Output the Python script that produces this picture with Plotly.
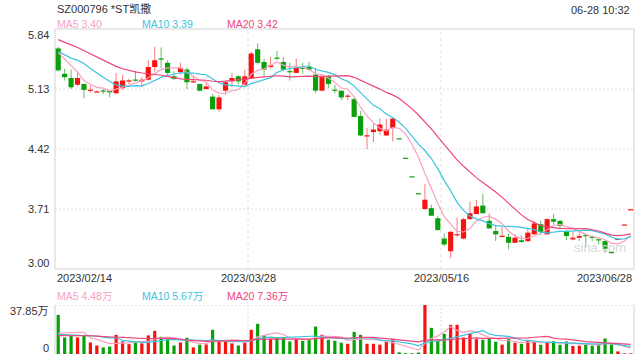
import numpy as np
import plotly.graph_objects as go

title = "SZ000796 *ST凯撒"
timestamp = "06-28 10:32"

opens = [5.61, 5.31, 5.26, 5.18, 5.19, 5.11, 5.09, 5.11, 5.11, 5.08,
         5.14, 5.22, 5.24, 5.22, 5.24, 5.39, 5.49, 5.44, 5.28, 5.33,
         5.36, 5.21, 5.19, 5.13, 5.04, 4.89, 5.11, 5.22, 5.28, 5.18,
         5.26, 5.60, 5.45, 5.39, 5.50, 5.45, 5.34, 5.32, 5.38, 5.39,
         5.30, 5.11, 5.28, 5.12, 5.11, 5.04, 5.01, 4.81, 4.57, 4.62,
         4.63, 4.58, 4.67, 4.54, 4.31, 4.09, 3.89, 3.71, 3.72, 3.60,
         3.36, 3.21, 3.40, 3.36, 3.59, 3.65, 3.75, 3.57, 3.45, 3.38,
         3.38, 3.31, 3.34, 3.33, 3.41, 3.53, 3.41, 3.59, 3.57, 3.45,
         3.35, 3.37, 3.40, 3.38, 3.35, 3.33, 3.20, 3.35, 3.52, 3.70]
highs = [5.63, 5.37, 5.36, 5.34, 5.19, 5.17, 5.11, 5.13, 5.11, 5.32,
         5.30, 5.25, 5.34, 5.27, 5.47, 5.63, 5.62, 5.47, 5.34, 5.44,
         5.38, 5.29, 5.19, 5.21, 5.07, 5.06, 5.22, 5.32, 5.29, 5.36,
         5.57, 5.67, 5.49, 5.51, 5.58, 5.51, 5.44, 5.49, 5.44, 5.45,
         5.38, 5.27, 5.30, 5.18, 5.11, 5.07, 5.03, 4.87, 4.67, 4.72,
         4.78, 4.78, 4.79, 4.54, 4.31, 4.09, 3.89, 4.01, 3.76, 3.63,
         3.42, 3.45, 3.61, 3.61, 3.80, 3.82, 3.89, 3.66, 3.52, 3.50,
         3.42, 3.41, 3.40, 3.48, 3.57, 3.57, 3.60, 3.65, 3.58, 3.46,
         3.44, 3.44, 3.41, 3.40, 3.36, 3.34, 3.21, 3.35, 3.52, 3.70]
lows = [5.34, 5.23, 5.13, 5.16, 5.02, 5.09, 5.09, 5.07, 5.03, 5.07,
        5.12, 5.19, 5.22, 5.15, 5.23, 5.34, 5.38, 5.28, 5.24, 5.30,
        5.13, 5.20, 5.10, 5.12, 4.89, 4.86, 5.06, 5.15, 5.18, 5.17,
        5.25, 5.42, 5.27, 5.37, 5.47, 5.34, 5.23, 5.32, 5.31, 5.34,
        5.08, 5.10, 5.14, 5.08, 5.00, 5.00, 4.80, 4.57, 4.42, 4.50,
        4.59, 4.57, 4.51, 4.54, 4.31, 4.09, 3.89, 3.70, 3.63, 3.46,
        3.27, 3.13, 3.38, 3.35, 3.58, 3.65, 3.66, 3.48, 3.33, 3.38,
        3.23, 3.31, 3.31, 3.32, 3.41, 3.40, 3.41, 3.52, 3.48, 3.34,
        3.34, 3.33, 3.25, 3.33, 3.29, 3.19, 3.18, 3.35, 3.52, 3.70]
closes = [5.35, 5.27, 5.15, 5.26, 5.12, 5.12, 5.10, 5.10, 5.09, 5.22,
          5.23, 5.23, 5.23, 5.24, 5.39, 5.47, 5.48, 5.32, 5.25, 5.38,
          5.21, 5.22, 5.11, 5.16, 4.89, 5.03, 5.21, 5.26, 5.22, 5.28,
          5.55, 5.44, 5.36, 5.41, 5.49, 5.36, 5.33, 5.38, 5.37, 5.36,
          5.11, 5.27, 5.19, 5.11, 5.03, 5.05, 4.80, 4.58, 4.58, 4.65,
          4.71, 4.65, 4.78, 4.54, 4.31, 4.09, 3.89, 3.82, 3.63, 3.46,
          3.29, 3.44, 3.41, 3.59, 3.66, 3.74, 3.66, 3.48, 3.41, 3.39,
          3.31, 3.37, 3.32, 3.43, 3.54, 3.44, 3.59, 3.56, 3.51, 3.39,
          3.37, 3.39, 3.39, 3.37, 3.34, 3.24, 3.19, 3.35, 3.52, 3.70]
# volume, in 万 (10k) shares
volumes = [30.2, 12.8, 14.0, 12.8, 14.0, 8.9, 6.6, 5.1, 5.8, 14.8,
           9.7, 7.6, 8.9, 8.2, 14.4, 17.9, 13.3, 11.0, 6.6, 8.9,
           12.5, 5.1, 7.2, 7.4, 18.7, 10.2, 9.7, 8.2, 6.6, 9.2,
           18.7, 23.3, 14.6, 11.8, 12.8, 12.8, 9.7, 11.5, 10.2, 11.0,
           21.2, 14.8, 11.0, 10.2, 8.7, 7.9, 17.1, 14.8, 7.9, 7.9,
           7.2, 9.7, 11.5, 1.3, 0.6, 0.6, 1.1, 37.85, 20.2, 10.2,
           15.6, 22.5, 22.5, 12.8, 16.1, 11.5, 11.0, 12.0, 9.5, 7.2,
           11.5, 8.7, 7.9, 10.4, 9.4, 7.1, 8.7, 10.0, 7.1, 9.7,
           6.2, 6.4, 7.4, 6.4, 7.9, 12.0, 7.4, 2.0, 0.5, 0.5]
# sessions before the visible window (estimated from where the MA lines start)
prior_closes = [5.80, 5.85, 5.90, 5.88, 5.92, 5.86, 5.84, 5.87, 5.83, 5.80,
                5.65, 5.55, 5.50, 5.52, 5.70, 5.66, 5.58, 5.60, 5.62]
prior_volumes = [12, 14, 11, 13, 15, 12, 13, 16, 14, 12,
                 15, 13, 18, 14, 12, 11, 13, 12, 14]

x_labels = ["2023/02/14", "2023/03/28", "2023/05/16", "2023/06/28"]
price_ticks = [5.84, 5.13, 4.42, 3.71, 3.00]
ma_periods = [5, 10, 20]
ma_colors = ["#f7a1bf", "#3cc3df", "#ee4679"]

RED, GREEN = "#f5120f", "#0aa00a"
RED_W, GREEN_W = "#f78585", "#6cc66c"
GRID, BORDER, TXT = "#dedede", "#d2d2d2", "#333333"
FONT = "Liberation Sans, Arial, Noto Sans CJK SC, sans-serif"

o, h, l, c = (np.array(a, dtype=float) for a in (opens, highs, lows, closes))
vol = np.array(volumes, dtype=float)
n = len(c)
idx = np.arange(n)

prev_c = np.concatenate([[prior_closes[-1]], c[:-1]])
up = np.where(c > o, True, np.where(c < o, False, c >= prev_c))
body_col = [RED if u else GREEN for u in up]
wick_col = [RED_W if u else GREEN_W for u in up]


def moving_average(prior, values, k):
    full = np.array(list(prior) + list(values), dtype=float)
    return np.convolve(full, np.ones(k) / k, mode="valid")[-len(values):]


W, H = 640, 360
L_PX, R_PX = 55, 634
MAIN_T, MAIN_B = 29, 269
VOL_T, VOL_B = 305, 354
px = lambda v: v / W
py = lambda v: 1 - v / H

fig = go.Figure()

# wicks
fig.add_trace(go.Bar(x=idx, base=l, y=h - l, width=0.17, marker=dict(color=wick_col, line_width=0),
                     xaxis="x", yaxis="y", hoverinfo="skip"))
# bodies
min_h = (price_ticks[0] - price_ticks[-1]) / (MAIN_B - MAIN_T) * 1.2
body_h = np.maximum(np.abs(c - o), min_h)
body_base = (o + c) / 2 - body_h / 2
fig.add_trace(go.Bar(x=idx, base=body_base, y=body_h, width=0.8, marker=dict(color=body_col, line_width=0),
                     xaxis="x", yaxis="y", hoverinfo="skip"))

price_ma = {}
for k, col in zip(ma_periods, ma_colors):
    ma = moving_average(prior_closes, c, k)
    price_ma[k] = ma
    fig.add_trace(go.Scatter(x=idx, y=ma, mode="lines", line=dict(color=col, width=1.2),
                             xaxis="x", yaxis="y", hoverinfo="skip"))

# volume
fig.add_trace(go.Bar(x=idx, y=vol, width=0.5, marker=dict(color=body_col, line_width=0),
                     xaxis="x2", yaxis="y2", hoverinfo="skip"))
vol_ma = {}
for k, col in zip(ma_periods, ma_colors):
    ma = moving_average(prior_volumes, vol, k)
    vol_ma[k] = ma
    fig.add_trace(go.Scatter(x=idx, y=ma, mode="lines", line=dict(color=col, width=1.2),
                             xaxis="x2", yaxis="y2", hoverinfo="skip"))

vmax = float(vol.max())
x_edges = [-0.5 + n * f for f in (0, 1 / 3, 2 / 3, 1)]

shapes = []
# main panel border
shapes.append(dict(type="rect", xref="x domain", yref="y domain", x0=0, x1=1, y0=0, y1=1,
                   line=dict(color=BORDER, width=1), layer="below"))
for t in price_ticks[1:-1]:
    shapes.append(dict(type="line", xref="x domain", yref="y", x0=0, x1=1, y0=t, y1=t,
                       line=dict(color=GRID, width=1, dash="2px,2px"), layer="below"))
for xe in x_edges[1:3]:
    shapes.append(dict(type="line", xref="x", yref="y domain", x0=xe, x1=xe, y0=0, y1=1,
                       line=dict(color=GRID, width=1, dash="3px,3px"), layer="below"))
    shapes.append(dict(type="line", xref="x2", yref="y2 domain", x0=xe, x1=xe, y0=0, y1=1,
                       line=dict(color=GRID, width=1, dash="2px,2px"), layer="below"))
# volume panel frame
for yv in (0, vmax):
    shapes.append(dict(type="line", xref="x2 domain", yref="y2", x0=0, x1=1, y0=yv, y1=yv,
                       line=dict(color=BORDER, width=1, dash="2px,2px"), layer="below"))
for xd in (0, 1):
    shapes.append(dict(type="line", xref="x2 domain", yref="y2 domain", x0=xd, x1=xd, y0=0, y1=1,
                       line=dict(color=BORDER, width=1), layer="below"))

ann = []
def text(x, y, s, color=TXT, size=11, xanchor="left", xref="paper", yref="paper", yshift=0):
    ann.append(dict(x=x, y=y, xref=xref, yref=yref, text=s, showarrow=False, xanchor=xanchor,
                    yanchor="middle", yshift=yshift, font=dict(family=FONT, size=size, color=color)))

text(px(L_PX), py(8), title, size=11)
text(px(632), py(10), timestamp, xanchor="right")
for (k, col), xp in zip(zip(ma_periods, ma_colors), (55, 140, 225)):
    text(px(xp), py(24), f"MA{k} {price_ma[k][-1]:.2f}", color=col, size=10.5)
    text(px(xp), py(296), f"MA{k} {vol_ma[k][-1]:.2f}万", color=col, size=10.5)
for i, t in enumerate(price_ticks):
    shift = -6 if i == 0 else (6 if i == len(price_ticks) - 1 else 0)
    text(px(51), t, f"{t:.2f}", xanchor="right", yref="y", yshift=shift)
text(px(51), vmax, f"{vmax:.2f}万", xanchor="right", yref="y2", yshift=-6)
text(px(51), 0, "0", xanchor="right", yref="y2", yshift=6)
anchors = ["left", "center", "center", "right"]
for lab, xe, a in zip(x_labels, x_edges, anchors):
    text(xe, py(278), lab, xanchor=a, xref="x")
text(px(600), py(247), "sina.com", color="#d9d9d9", size=13, xanchor="center")

axis_common = dict(showgrid=False, zeroline=False, showticklabels=False, ticks="", showline=False, fixedrange=True)
fig.update_layout(
    width=W, height=H, margin=dict(l=0, r=0, t=0, b=0),
    paper_bgcolor="white", plot_bgcolor="white",
    showlegend=False, barmode="overlay", hovermode=False,
    xaxis=dict(domain=[px(L_PX), px(R_PX)], range=[-0.5, n - 0.5], anchor="y", **axis_common),
    yaxis=dict(domain=[py(MAIN_B), py(MAIN_T)], range=[price_ticks[-1], price_ticks[0]], anchor="x", **axis_common),
    xaxis2=dict(domain=[px(L_PX), px(R_PX)], range=[-0.5, n - 0.5], anchor="y2", matches="x", **axis_common),
    yaxis2=dict(domain=[py(VOL_B), py(VOL_T)], range=[0, vmax], anchor="x2", **axis_common),
    shapes=shapes, annotations=ann,
)

fig.write_html("out.html", config={"displayModeBar": False, "staticPlot": True},
               post_script="document.body.style.margin='0';document.body.style.overflow='hidden';")
